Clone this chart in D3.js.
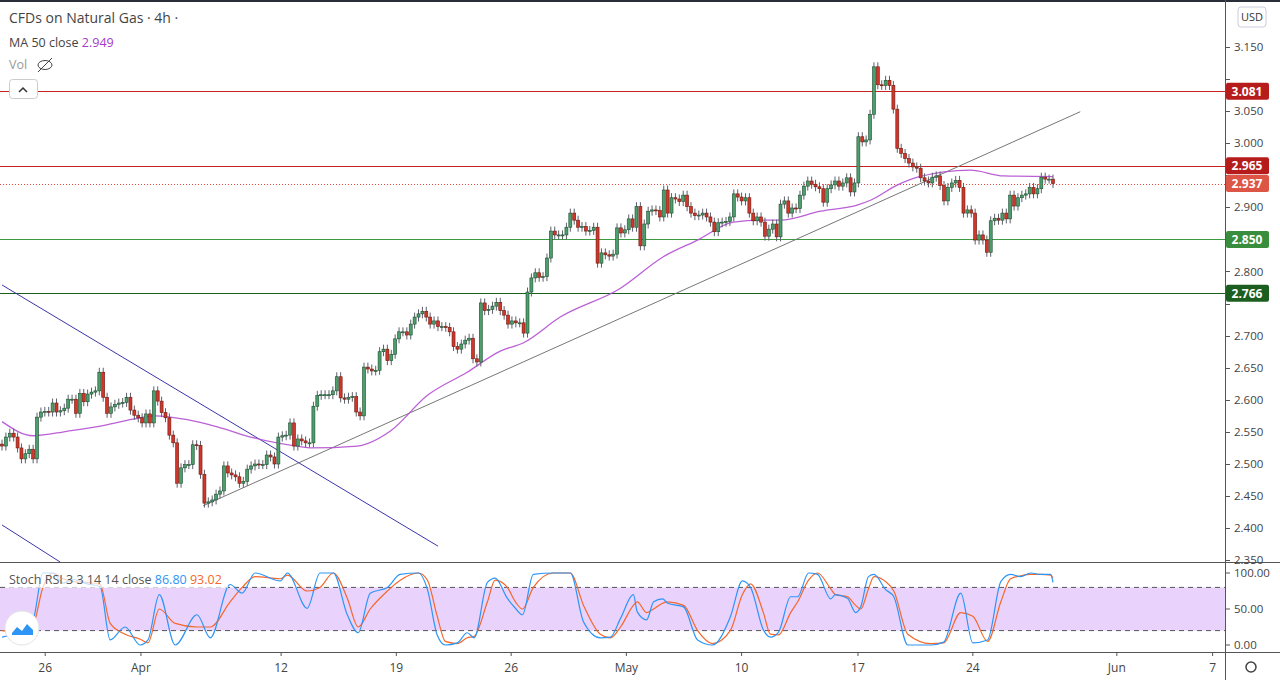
<!DOCTYPE html>
<html><head><meta charset="utf-8">
<script src="https://cdn.jsdelivr.net/npm/d3@7"></script>
<style>body{margin:0;background:#fff;font-family:"Open Sans",Roboto,sans-serif}</style>
</head><body><svg id="chart" width="1280" height="680"></svg>
<script>
// 4h closes (open = previous close)
const closes = [
2.528,2.542,2.548,2.542,2.525,2.508,2.516,2.523,2.508,2.573,
2.581,2.582,2.581,2.595,2.581,2.583,2.587,2.601,2.601,2.579,
2.610,2.597,2.609,2.612,2.614,2.643,2.604,2.579,2.589,2.593,
2.595,2.596,2.604,2.584,2.576,2.572,2.564,2.578,2.564,2.614,
2.598,2.580,2.572,2.545,2.533,2.470,2.494,2.499,2.499,2.530,
2.529,2.484,2.439,2.441,2.444,2.453,2.458,2.497,2.486,2.483,
2.480,2.470,2.473,2.492,2.497,2.500,2.499,2.499,2.514,2.511,
2.500,2.542,2.544,2.545,2.564,2.528,2.539,2.536,2.533,2.533,
2.590,2.607,
2.608,2.608,2.608,2.614,2.636,2.603,2.601,2.604,2.605,2.581,
2.575,2.651,2.648,2.645,2.646,2.675,2.679,2.661,2.671,2.695,
2.706,2.706,2.701,2.718,2.729,2.734,2.738,2.729,2.718,2.723,
2.714,2.714,2.713,2.706,2.683,2.679,2.687,2.693,2.696,2.664,
2.659,2.751,2.739,2.741,2.746,2.752,2.739,2.732,2.718,2.723,
2.720,2.720,2.704,2.768,2.790,
2.798,2.791,2.792,2.821,2.863,2.857,2.857,2.857,2.869,2.891,
2.880,2.869,2.870,2.863,2.864,2.869,2.813,2.829,2.826,2.824,
2.827,2.868,2.860,2.865,2.882,2.869,2.901,2.840,2.874,2.894,
2.896,2.895,2.885,2.927,2.891,2.915,2.913,2.909,2.919,2.901,
2.891,2.887,2.888,2.891,2.885,2.877,2.862,2.876,2.877,2.878,
2.885,2.921,2.916,2.910,2.915,2.891,2.879,2.885,2.877,2.855,
2.866,2.874,2.854,2.905,2.910,2.891,2.899,2.898,2.919,2.933,
2.941,2.936,2.932,
2.929,2.908,2.929,2.935,2.941,2.933,2.938,2.946,2.924,2.938,
3.010,3.002,3.005,3.045,3.119,3.091,3.090,3.098,3.090,3.053,
2.992,2.984,2.976,2.969,2.963,2.961,2.946,2.941,2.938,2.947,
2.949,2.934,2.910,2.931,2.938,2.942,2.931,2.891,2.896,2.891,
2.849,2.857,2.849,2.830,2.879,2.883,2.880,2.891,2.882,2.919,
2.902,2.915,2.919,2.921,2.931,2.921,2.929,2.947,2.944,2.944,
2.937];
const firstOpen = 2.531;
const wick = 0.007;

// MA 50 samples (bar index, value)
const maIdx = [0,8,16.7,25.2,33.7,39.3,47.6,55.3,64.5,76.6,79.2,91.3,99.7,109.3,119.5,128,134,143.4,158.9,169.9,178.7,187.9,194.9,200,210.3,219.9,223.1,230.1,235.2,248.8,257.3,270];
const maVal = [2.566,2.544,2.551,2.559,2.570,2.575,2.569,2.558,2.541,2.527,2.525,2.528,2.551,2.607,2.643,2.676,2.689,2.729,2.774,2.823,2.849,2.877,2.880,2.880,2.894,2.904,2.911,2.935,2.947,2.958,2.949,2.948];

// Stoch RSI samples
const stIdx = [0,5,8,10.5,13,15.7,18.3,21.9,25.2,27.8,31.6,35.5,37.5,40.4,44.5,50.1,53.5,58.6,61.7,65,
71.5,73.3,78.4,81.7,85.1,88.7,91.5,94.6,99,102.3,107,109.3,111.8,113.9,117,119.5,121.3,124.7,126.7,129.8,
131.9,133.7,136.5,141.6,146,149.4,153.7,156.3,158.9,162.2,163.2,165.6,167.4,169.7,171,175.1,178.7,182.5,187.1,190.2,
192.3,195.6,197.4,199.5,202.6,204.4,207.2,209.5,212.9,214.1,217.2,219.3,220.6,222.6,224,227,229.1,232.7,238.6,241.9,
246.3,249.4,253.2,256.6,259.1,261.7,264.3,266.8,269.4,270];
const stK = [11,20,35,100,100,86,91,85,81,7,25,0,7,70,0,42,10,84,72,100,
89,100,51,100,100,42,17,72,80,98,100,77,14,0,3,17,10,87,93,65,
51,42,98,100,100,32,10,11,37,70,46,35,60,64,58,53,7,0,39,89,
80,21,11,18,67,67,100,98,64,70,65,45,53,95,98,77,67,0,0,4,
72,3,7,88,98,95,100,98,98,86.8];
const stD = [20,18,28,80,100,92,88,87,84,30,15,8,3,50,30,25,25,60,80,95,
92,97,75,80,100,65,25,50,75,90,100,90,40,5,2,10,12,60,90,80,
60,50,80,100,100,55,15,10,25,55,60,45,50,58,60,55,20,2,20,70,
85,45,15,14,45,60,90,100,78,70,67,55,50,78,95,88,75,15,2,3,
45,40,5,60,92,96,98,98,97,93.02];

// horizontal levels and trend lines
const levels = [3.081, 2.965, 2.850, 2.766];
const levelColors = ["#c62020", "#c62020", "#3c9a40", "#1b5e20"];
const lastPrice = 2.937;
const trendLines = [
  {a:[51.7,2.435], b:[277,3.049], color:"#777"},
  {a:[0,2.779], b:[112,2.372], color:"#3b36a8"},
  {a:[0,2.405], b:[15,2.347], color:"#3b36a8"}
];
const tickIdx = [11.1,35.7,71.7,101.3,130.8,160.4,190,219.9,249.4,286.4,311];
const tickLabels = ["26","Apr","12","19","26","May","10","17","24","Jun","7"];
const priceTicks = d3.range(2.35, 3.151, 0.05);

const svg = d3.select("#chart");
const W = 1225, mainH = 562, stTop = 563, stBot = 652;
const x = d3.scaleLinear().domain([0, closes.length - 1]).range([2, 1053]);
const y = d3.scaleLinear().domain([2.5, 3.1]).range([464, 79]);
const ys = d3.scaleLinear().domain([0, 100]).range([645, 573]);
const py = p => Math.round(y(p)) + 0.5;

svg.append("defs").append("clipPath").attr("id", "clipMain")
  .append("rect").attr("width", W).attr("height", mainH);
svg.append("defs").append("clipPath").attr("id", "clipSt")
  .append("rect").attr("y", stTop).attr("width", W).attr("height", stBot - stTop);

// borders
svg.append("rect").attr("width", 1280).attr("height", 2).attr("fill", "#2a2e39");
svg.append("line").attr("x1", W + .5).attr("x2", W + .5).attr("y1", 0).attr("y2", 680).attr("stroke", "#555");
svg.append("line").attr("x1", 0).attr("x2", 1280).attr("y1", mainH + .5).attr("y2", mainH + .5).attr("stroke", "#555");
svg.append("line").attr("x1", 0).attr("x2", 1280).attr("y1", stBot + .5).attr("y2", stBot + .5).attr("stroke", "#555");

const main = svg.append("g").attr("clip-path", "url(#clipMain)");

// levels
levels.forEach((l, i) => {
  main.append("line").attr("x1", 0).attr("x2", W).attr("y1", py(l)).attr("y2", py(l))
    .attr("stroke", levelColors[i]).attr("stroke-width", 1.2);
});
main.append("line").attr("x1", 0).attr("x2", W).attr("y1", py(lastPrice)).attr("y2", py(lastPrice))
  .attr("stroke", "#e0483a").attr("stroke-dasharray", "1,2");

trendLines.forEach(t => {
  main.append("line").attr("x1", x(t.a[0])).attr("y1", y(t.a[1]))
    .attr("x2", x(t.b[0])).attr("y2", y(t.b[1])).attr("stroke", t.color).attr("stroke-width", 1);
});

// MA
main.append("path").datum(maIdx.map((d, i) => [d, maVal[i]]))
  .attr("d", d3.line().x(d => x(d[0])).y(d => y(d[1])).curve(d3.curveMonotoneX))
  .attr("fill", "none").attr("stroke", "#b44fd0").attr("stroke-width", 1.3).attr("opacity", .9);

// candles
const candles = closes.map((c, i) => {
  const o = i === 0 ? firstOpen : closes[i - 1];
  return {i, o, c, h: Math.max(o, c) + wick, l: Math.min(o, c) - wick};
});
const cg = main.selectAll("g.c").data(candles).join("g");
cg.append("line").attr("x1", d => x(d.i)).attr("x2", d => x(d.i))
  .attr("y1", d => y(d.h)).attr("y2", d => y(d.l)).attr("stroke", "#5d606b");
cg.append("rect").attr("x", d => x(d.i) - 1.5).attr("width", 3)
  .attr("y", d => y(Math.max(d.o, d.c)))
  .attr("height", d => Math.max(1, Math.abs(y(d.o) - y(d.c))))
  .attr("fill", d => d.c >= d.o ? "#4c9e6c" : "#d0362a")
  .attr("stroke", d => d.c >= d.o ? "#1e4d30" : "#6b1a12").attr("stroke-width", .6);

// price axis
const tags = [[3.081, "#b71c1c"], [2.965, "#b71c1c"], [lastPrice, "#dd5545"], [2.850, "#388e3c"], [2.766, "#1b5e20"]];
const ax = svg.append("g");
priceTicks.forEach(p => {
  ax.append("line").attr("x1", W).attr("x2", W + 5).attr("y1", py(p)).attr("y2", py(p)).attr("stroke", "#555");
  if (tags.some(t => Math.abs(y(t[0]) - y(p)) < 14)) return;
  ax.append("text").attr("x", 1234).attr("y", y(p) + 4).attr("font-size", 11.5).attr("fill", "#444")
    .text(p.toFixed(3));
});
tags.forEach(([p, col]) => {
  ax.append("rect").attr("x", W + 1).attr("y", y(p) - 8.5).attr("width", 43).attr("height", 17).attr("rx", 2).attr("fill", col);
  ax.append("text").attr("x", 1247).attr("y", y(p) + 4.5).attr("text-anchor", "middle")
    .attr("font-size", 12).attr("font-weight", "bold").attr("fill", "#fff").text(p.toFixed(3));
});
ax.append("rect").attr("x", 1238).attr("y", 7).attr("width", 28).attr("height", 20).attr("rx", 3)
  .attr("fill", "#fff").attr("stroke", "#ccd");
ax.append("text").attr("x", 1252).attr("y", 21).attr("text-anchor", "middle").attr("font-size", 11).attr("fill", "#333").text("USD");

// stoch pane
const st = svg.append("g").attr("clip-path", "url(#clipSt)");
st.append("rect").attr("x", 0).attr("width", W).attr("y", ys(80)).attr("height", ys(20) - ys(80)).attr("fill", "#e9d2fb");
[80, 20].forEach(v => st.append("line").attr("x1", 0).attr("x2", W).attr("y1", ys(v)).attr("y2", ys(v))
  .attr("stroke", "#555").attr("stroke-dasharray", "5,4"));
const sl = d3.line().x(d => x(d[0])).y(d => ys(d[1])).curve(d3.curveMonotoneX);
st.append("path").datum(stIdx.map((d, i) => [d, stD[i]])).attr("d", sl).attr("fill", "none").attr("stroke", "#f4682c").attr("stroke-width", 1.2);
st.append("path").datum(stIdx.map((d, i) => [d, stK[i]])).attr("d", sl).attr("fill", "none").attr("stroke", "#2d95f5").attr("stroke-width", 1.2);
[100, 50, 0].forEach(v => {
  svg.append("line").attr("x1", W).attr("x2", W + 5).attr("y1", ys(v)).attr("y2", ys(v)).attr("stroke", "#555");
  svg.append("text").attr("x", 1234).attr("y", ys(v) + 4).attr("font-size", 11.5).attr("fill", "#444").text(v.toFixed(2));
});
svg.append("rect").attr("x", 6).attr("y", 571).attr("width", 222).attr("height", 17).attr("fill", "#fff").attr("opacity", .7);
const stl = svg.append("text").attr("x", 9).attr("y", 584).attr("font-size", 12.5);
stl.append("tspan").attr("fill", "#555").text("Stoch RSI 3 3 14 14 close  ");
stl.append("tspan").attr("fill", "#2d95f5").text(stK[stK.length - 1].toFixed(2));
stl.append("tspan").attr("fill", "#f4682c").text("  " + stD[stD.length - 1].toFixed(2));
// logo
svg.append("circle").attr("cx", 22).attr("cy", 628).attr("r", 17).attr("fill", "#fff").attr("stroke", "#e3e3e3");
svg.append("path").attr("d", "M12,633 l5,-6 5,4 5,-7 6,6 v5 h-21z").attr("fill", "#2d95f5");

// time axis
tickIdx.forEach((t, i) => {
  svg.append("line").attr("x1", x(t)).attr("x2", x(t)).attr("y1", stBot).attr("y2", stBot + 4).attr("stroke", "#555");
  svg.append("text").attr("x", x(t)).attr("y", 672).attr("text-anchor", "middle").attr("font-size", 12)
    .attr("fill", "#444").text(tickLabels[i]);
});
svg.append("circle").attr("cx", 1251).attr("cy", 667).attr("r", 5).attr("fill", "none").attr("stroke", "#444").attr("stroke-width", 1.5);

// legend
svg.append("text").attr("x", 9).attr("y", 23).attr("font-size", 14).attr("fill", "#444").text("CFDs on Natural Gas · 4h ·");
const ma = svg.append("text").attr("x", 9).attr("y", 47).attr("font-size", 12.5);
ma.append("tspan").attr("fill", "#444").text("MA 50 close  ");
ma.append("tspan").attr("fill", "#a43cc7").text("2.949");
svg.append("text").attr("x", 9).attr("y", 69).attr("font-size", 12.5).attr("fill", "#999").text("Vol");
svg.append("ellipse").attr("cx", 45).attr("cy", 65).attr("rx", 7).attr("ry", 4.5).attr("fill", "none").attr("stroke", "#444");
svg.append("line").attr("x1", 38).attr("y1", 72).attr("x2", 52).attr("y2", 58).attr("stroke", "#444");
svg.append("rect").attr("x", 9.5).attr("y", 79.5).attr("width", 28).attr("height", 19).attr("rx", 3).attr("fill", "#fff").attr("stroke", "#ccc");
svg.append("path").attr("d", "M19,92 l4,-4 4,4").attr("fill", "none").attr("stroke", "#333").attr("stroke-width", 1.5);
</script></body></html>
